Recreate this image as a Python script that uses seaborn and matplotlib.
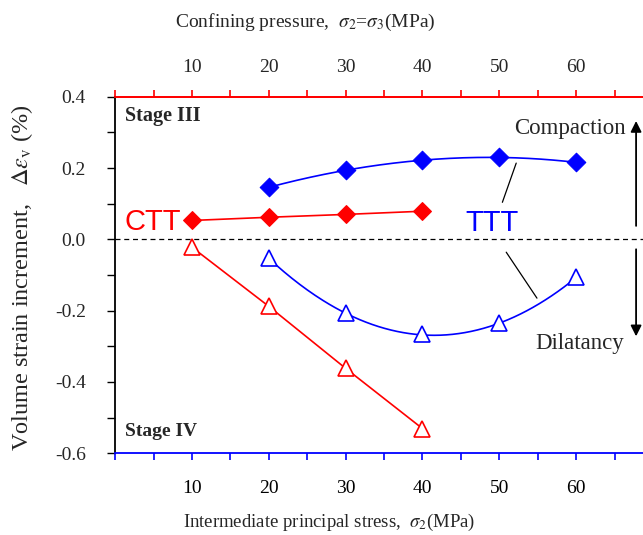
import numpy as np
import pandas as pd
import matplotlib
matplotlib.use("Agg")
import matplotlib.pyplot as plt
import seaborn as sns

# ---- data ----
ctt_x = [10, 20, 30, 40]
ctt_comp = [0.053, 0.062, 0.070, 0.079]
ctt_dil = [-0.022, -0.188, -0.362, -0.531]
ttt_x = [20, 30, 40, 50, 60]
ttt_comp = [0.146, 0.194, 0.222, 0.230, 0.216]
ttt_dil = [-0.053, -0.208, -0.267, -0.236, -0.107]
xticks = [10, 20, 30, 40, 50, 60]
yticks = [-0.6, -0.4, -0.2, 0.0, 0.2, 0.4]

sns.set_theme(style="ticks")
plt.rcParams['font.family'] = ['Liberation Serif', 'DejaVu Serif']
plt.rcParams['mathtext.fontset'] = 'stix'

RED = '#ff0000'
BLUE = '#0000ff'

fig = plt.figure(figsize=(6.43, 5.35), dpi=100)
ax = fig.add_axes([0.179, 0.153, 0.821, 0.666])

def smooth(xs, ys, deg=3):
    c = np.polyfit(xs, ys, deg)
    xx = np.linspace(min(xs), max(xs), 200)
    return xx, np.polyval(c, xx)

# red straight lines
sns.lineplot(x=ctt_x, y=ctt_comp, ax=ax, color=RED, lw=1.2, marker='D', markersize=9,
             markerfacecolor=RED, markeredgecolor=RED)
sns.lineplot(x=ctt_x, y=ctt_dil, ax=ax, color=RED, lw=1.2, marker='^', markersize=11,
             markerfacecolor='white', markeredgecolor=RED, markeredgewidth=1.2)

# blue smooth curves
xx, yy = smooth(ttt_x, ttt_comp)
sns.lineplot(x=xx, y=yy, ax=ax, color=BLUE, lw=1.2, sort=False)
xx, yy = smooth(ttt_x, ttt_dil)
sns.lineplot(x=xx, y=yy, ax=ax, color=BLUE, lw=1.2, sort=False)
sns.scatterplot(x=ttt_x, y=ttt_comp, ax=ax, marker='D', s=90, color=BLUE, edgecolor=BLUE, zorder=5)
ax.plot(ttt_x, ttt_dil, ls='none', marker='^', markersize=11, markerfacecolor='white',
        markeredgecolor=BLUE, markeredgewidth=1.2, zorder=5)

ax.axhline(0, color='black', lw=0.9, ls=(0, (4, 3)))

ax.set_xlim(0, 68.7)
ax.set_ylim(-0.6, 0.4)
ax.set_xticks(xticks)
ax.set_xticks(np.arange(0, 70, 5), minor=True)
ax.set_yticks(yticks)
ax.set_yticks(np.arange(-0.6, 0.41, 0.1), minor=True)
ax.set_yticklabels([f"{v:.1f}".replace('\u2212', '-') for v in yticks])
ax.set_xticklabels([str(v) for v in xticks])

ax.spines['right'].set_visible(False)
ax.spines['top'].set_color(RED)
ax.spines['bottom'].set_color(BLUE)
ax.spines['left'].set_color('black')
for s in ['top', 'bottom', 'left']:
    ax.spines[s].set_linewidth(1.3)

ax.tick_params(axis='x', which='both', direction='out', length=5, width=1.2,
               color=BLUE, labelsize=14, pad=14, labelcolor='black')
ax.tick_params(axis='y', which='both', direction='out', length=6, width=1.0,
               color='black', labelsize=14, pad=15)

# top axis
ax2 = ax.secondary_xaxis('top')
ax2.set_xticks(xticks)
ax2.set_xticks(np.arange(0, 70, 5), minor=True)
ax2.set_xticklabels([str(v) for v in xticks])
ax2.spines['top'].set_color(RED)
ax2.spines['top'].set_linewidth(1.3)
ax2.tick_params(axis='x', which='both', direction='out', length=5, width=1.2,
                color=RED, labelsize=14, pad=10)

fig.text(305/643, 1 - 22/535, r"Confining pressure,  $\sigma_2$=$\sigma_3$(MPa)",
         fontsize=14, ha='center', va='center')
fig.text(329/643, 1 - 522/535, r"Intermediate principal stress,  $\sigma_2$(MPa)",
         fontsize=13.5, ha='center', va='center')
fig.text(22/643, 1 - 278/535, r"Volume strain increment,   $\Delta\varepsilon_{\rm v}$ (%)",
         fontsize=17.5, ha='center', va='center', rotation=90)

# annotations
ax.text(1.3, 0.345, "Stage III", fontsize=14.5, fontweight='bold', va='center')
ax.text(1.3, -0.54, "Stage IV", fontsize=14, fontweight='bold', va='center')
ax.text(4.9, 0.048, "CTT", color=RED, fontsize=21, family=['Liberation Sans'], ha='center', va='center')
ax.text(49.1, 0.045, "TTT", color=BLUE, fontsize=21, family=['Liberation Sans'], ha='center', va='center')
ax.text(59.2, 0.31, "Compaction", fontsize=16.5, ha='center', va='center')
ax.text(60.4, -0.293, "Dilatancy", fontsize=16.5, ha='center', va='center')

ax.plot([50.4, 52.2], [0.104, 0.214], color='black', lw=0.9)
ax.plot([50.9, 54.9], [-0.036, -0.165], color='black', lw=0.9)

ax.annotate("", xy=(67.8, 0.34), xytext=(67.8, 0.03),
            arrowprops=dict(arrowstyle='-|>', color='black', lw=1.3, mutation_scale=16))
ax.annotate("", xy=(67.8, -0.28), xytext=(67.8, -0.02),
            arrowprops=dict(arrowstyle='-|>', color='black', lw=1.3, mutation_scale=16))

fig.savefig("out.png", dpi=100)
